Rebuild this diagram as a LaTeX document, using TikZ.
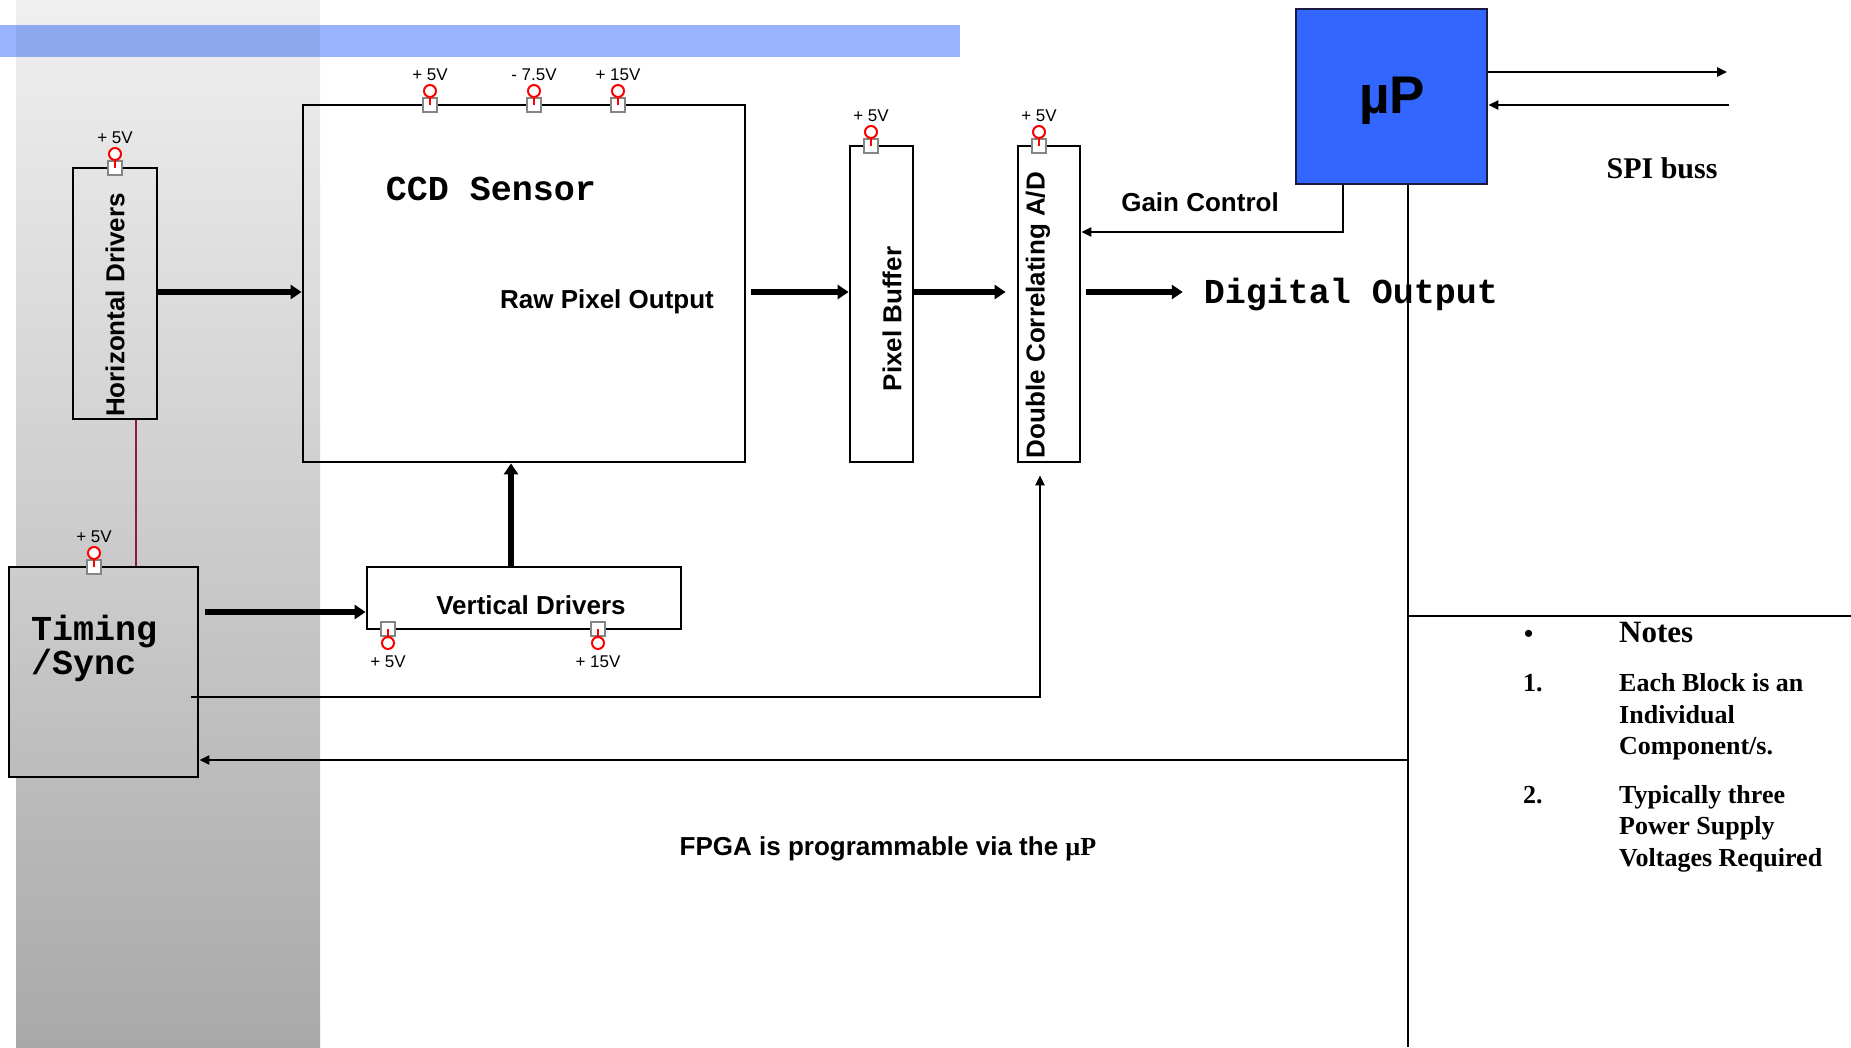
\documentclass[tikz,border=0pt]{standalone}
\usepackage{fontspec}
\setmainfont{Liberation Sans}
\newfontfamily\notesfont{Liberation Serif}
\newfontfamily\codefont{Liberation Mono}
\usetikzlibrary{arrows.meta,positioning,calc}
\definecolor{barBlue}{HTML}{99B3FF}
\definecolor{barBlueDim}{HTML}{8FA9F0}
\definecolor{upBlue}{HTML}{3366FF}
\definecolor{upEdge}{HTML}{1A1A40}
\definecolor{wireRed}{HTML}{8B1A4A}
\definecolor{pinGrey}{HTML}{858585}
\definecolor{shadeTop}{HTML}{F0F0F0}
\definecolor{shadeBot}{HTML}{A9A9A9}
\definecolor{timTop}{HTML}{CDCDCD}
\definecolor{timBot}{HTML}{BCBCBC}

% supply pin: name, x, y of box edge, label
\newcommand{\railtop}[4]{%
  \node[pinsq] (#1sq) at (#2,#3) {};
  \node[pinring] (#1ring) at (#2,#3-14) {};
  \draw[pinstem] (#1ring.south) -- (#1sq.center);
  \node[railtxt] (#1txt) at (#2,#3-30) {#4};}
\newcommand{\railbot}[4]{%
  \node[pinsq] (#1sq) at (#2,#3) {};
  \node[pinring] (#1ring) at (#2,#3+14) {};
  \draw[pinstem] (#1ring.north) -- (#1sq.center);
  \node[railtxt] (#1txt) at (#2,#3+33) {#4};}

\begin{document}
\begin{tikzpicture}[x=1pt,y=-1pt,
  font=\fontsize{26}{31}\selectfont\bfseries,
  blk/.style={draw=black,line width=2.8pt,inner sep=0pt},
  vtxt/.style={rotate=90,inner sep=0pt},
  codetxt/.style={font=\fontsize{35}{40}\selectfont\codefont\bfseries,inner sep=0pt},
  notetxt/.style={font=\fontsize{26}{31}\selectfont\notesfont\bfseries,inner sep=0pt,anchor=base west},
  railtxt/.style={font=\fontsize{17}{19}\selectfont\mdseries,inner sep=0pt},
  pinsq/.style={draw=pinGrey,fill=white,line width=1.8pt,minimum size=14pt,inner sep=0pt},
  pinring/.style={circle,draw=red,fill=white,line width=2pt,minimum size=12pt,inner sep=0pt},
  pinstem/.style={draw=red,line width=2pt},
  bus/.style={-{Triangle[length=11pt,width=14pt]},line width=6pt},
  sig/.style={-{Triangle[length=10pt,width=9pt]},line width=2.6pt},
  wire/.style={line width=2.6pt}]

\useasboundingbox (0,0) rectangle (1851,1047);

% background band and title bar
\shade[top color=shadeTop,bottom color=shadeBot] (16,0) rectangle (320,1047);
\fill[barBlue] (0,25) rectangle (960,57);
\fill[barBlueDim] (16,25) rectangle (320,57);

% blocks
\node[blk,minimum width=84pt,minimum height=251pt] (hdrv) at (115,293.5) {};
\node[blk,minimum width=442pt,minimum height=357pt] (ccd) at (524,283.5) {};
\node[blk,minimum width=63pt,minimum height=316pt] (pbuf) at (881.5,304) {};
\node[blk,minimum width=62pt,minimum height=316pt] (adc) at (1049,304) {};
\node[blk,draw=upEdge,fill=upBlue,minimum width=191pt,minimum height=175pt] (mup) at (1391.5,96.5) {};
\node[blk,top color=timTop,bottom color=timBot,minimum width=189pt,minimum height=210pt] (tim) at (103.5,672) {};
\node[blk,minimum width=314pt,minimum height=62pt] (vdrv) at (524,598) {};

% block texts
\node[vtxt] (hdrvtxt) at (115,305) {Horizontal Drivers};
\node[vtxt] (pbuftxt) at (892,319) {Pixel Buffer};
\node[vtxt] (adctxt) at (1038,315) {Double Correlating A/D};
\node[codetxt] (ccdtxt) at (491,189) {CCD Sensor};
\node (rawtxt) at (607,302) {Raw Pixel Output};
\node (vdrvtxt) at (531,605) {Vertical Drivers};
\node (gaintxt) at (1200,202) {Gain Control};
\node[codetxt] (digtxt) at (1351,295) {Digital Output};
\node[font=\fontsize{53}{60}\selectfont\bfseries] (muptxt) at (1392,101) {µP};
\node[font=\fontsize{30}{34}\selectfont\notesfont\bfseries] (spitxt) at (1662,168) {SPI buss};
\node[codetxt,font=\fontsize{35}{29}\selectfont\codefont\bfseries,align=left,anchor=base west] (timtxt) at (31,674) {Timing\\/Sync};
\node (fpgatxt) at (888,849) {FPGA is programmable via the {\notesfont µP}};

% notes
\node[notetxt] (bul) at (1524,642) {•};
\node[notetxt,font=\fontsize{31}{36}\selectfont\notesfont\bfseries] (notehd) at (1619,642) {Notes};
\node[notetxt] (num1) at (1523,691) {1.};
\node[notetxt] (n1a) at (1619,691) {Each Block is an};
\node[notetxt] (n1b) at (1619,723) {Individual};
\node[notetxt] (n1c) at (1619,754) {Component/s.};
\node[notetxt] (num2) at (1523,803) {2.};
\node[notetxt] (n2a) at (1619,803) {Typically three};
\node[notetxt] (n2b) at (1619,834) {Power Supply};
\node[notetxt] (n2c) at (1619,866) {Voltages Required};

% supply pins
\railtop{hd}{115}{168}{+ 5V}
\railtop{ca}{430}{105}{+ 5V}
\railtop{cb}{534}{105}{- 7.5V}
\railtop{cc}{618}{105}{+ 15V}
\railtop{pb}{871}{146}{+ 5V}
\railtop{ad}{1039}{146}{+ 5V}
\railtop{tm}{94}{567}{+ 5V}
\railbot{va}{388}{629}{+ 5V}
\railbot{vb}{598}{629}{+ 15V}

% helper coordinates
\coordinate (rowA) at (0,292);
\coordinate (rowT) at (0,612);
\coordinate (rowS) at (0,697);
\coordinate (rowG) at (0,232);
\coordinate (colV) at (511,0);
\coordinate (colH) at (136,0);
\coordinate (colA) at (1040,0);
\coordinate (colG) at (1343,0);
\coordinate (colM) at (1408,0);
\coordinate (busEnd) at (1408,1047);
\coordinate (noteL) at (1408,616);
\coordinate (noteR) at (1851,616);
\coordinate (fbk) at (1408,760);
\coordinate (spiOut) at (1727,72);
\coordinate (spiIn) at (1729,105);

% data path
\draw[bus] (hdrv.east |- rowA) -- (ccd.west |- rowA);
\draw[bus,shorten <=5pt] (ccd.east |- rowA) -- (pbuf.west |- rowA);
\draw[bus,shorten >=11pt] (pbuf.east |- rowA) -- (adc.west |- rowA);
\draw[bus,shorten <=5pt,shorten >=21pt] (adc.east |- rowA) -- (digtxt.west |- rowA);
\draw[bus] (vdrv.north -| colV) -- (ccd.south -| colV);
\draw[bus,shorten <=6pt] (tim.east |- rowT) -- (vdrv.west |- rowT);
\draw[wireRed,line width=2pt] (hdrv.south -| colH) -- (tim.north -| colH);

% control lines
\draw[sig,shorten <=-8pt,shorten >=12pt] (tim.east |- rowS) -| (adc.south -| colA);
\draw[sig] (mup.south -| colG) |- (adc.east |- rowG);
\draw[wire] (mup.south -| colM) -- (busEnd);
\draw[wire] (noteL) -- (noteR);
\draw[sig] (fbk) -- (tim.east |- fbk);
\draw[sig] (mup.east |- spiOut) -- (spiOut);
\draw[sig] (spiIn) -- (mup.east |- spiIn);
\end{tikzpicture}
\end{document}
